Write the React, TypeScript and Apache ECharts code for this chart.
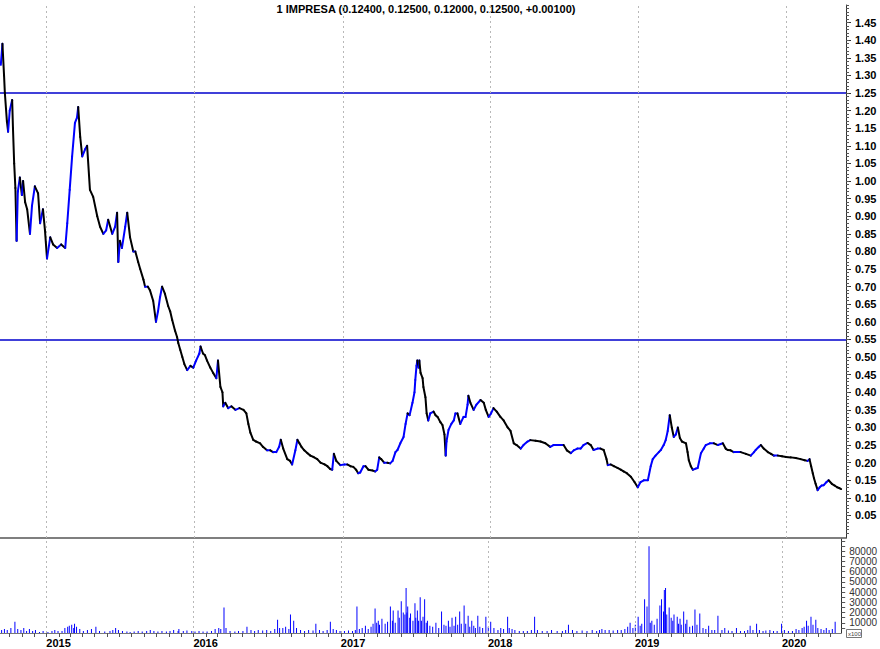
import React, { useEffect, useRef } from 'react';
import * as echarts from 'echarts';

const TITLE = '1 IMPRESA (0.12400, 0.12500, 0.12000, 0.12500, +0.00100)';
const yearLabels = [2015, 2016, 2017, 2018, 2019, 2020];
const priceLabels = [0.05, 0.1, 0.15, 0.2, 0.25, 0.3, 0.35, 0.4, 0.45, 0.5, 0.55, 0.6, 0.65, 0.7, 0.75, 0.8, 0.85, 0.9, 0.95, 1.0, 1.05, 1.1, 1.15, 1.2, 1.25, 1.3, 1.35, 1.4, 1.45];
const volumeLabels = [10000, 20000, 30000, 40000, 50000, 60000, 70000, 80000];
const levels = [1.25, 0.55];
const axisStart = '2014-09-08';
const axisEnd = '2020-05-27';

const closes: [string, number][] = [
  ['2014-09-10', 1.33], ['2014-09-14', 1.39], ['2014-09-18', 1.30], ['2014-09-20', 1.25], ['2014-09-25', 1.17], ['2014-09-28', 1.14],
  ['2014-10-02', 1.20], ['2014-10-08', 1.23], ['2014-10-10', 1.15], ['2014-10-13', 1.05], ['2014-10-16', 0.98], ['2014-10-19', 0.83],
  ['2014-10-22', 0.97], ['2014-10-27', 1.01], ['2014-11-01', 0.96], ['2014-11-04', 1.00], ['2014-11-09', 0.94], ['2014-11-14', 0.92],
  ['2014-11-21', 0.85], ['2014-11-26', 0.93], ['2014-12-03', 0.985], ['2014-12-11', 0.965], ['2014-12-16', 0.88], ['2014-12-23', 0.92],
  ['2014-12-28', 0.86], ['2015-01-02', 0.78], ['2015-01-10', 0.84], ['2015-01-17', 0.82], ['2015-01-27', 0.81], ['2015-02-06', 0.82],
  ['2015-02-16', 0.81], ['2015-02-21', 0.88], ['2015-02-27', 0.975], ['2015-03-05', 1.07], ['2015-03-12', 1.165], ['2015-03-17', 1.18],
  ['2015-03-20', 1.21], ['2015-03-25', 1.125], ['2015-03-30', 1.07], ['2015-04-06', 1.09], ['2015-04-11', 1.10], ['2015-04-18', 0.975],
  ['2015-04-26', 0.955], ['2015-05-06', 0.90], ['2015-05-13', 0.87], ['2015-05-21', 0.85], ['2015-05-28', 0.86], ['2015-06-02', 0.89],
  ['2015-06-12', 0.85], ['2015-06-19', 0.87], ['2015-06-24', 0.91], ['2015-06-27', 0.77], ['2015-07-01', 0.83], ['2015-07-06', 0.81],
  ['2015-07-14', 0.87], ['2015-07-19', 0.91], ['2015-07-26', 0.84], ['2015-08-03', 0.80], ['2015-08-08', 0.80], ['2015-08-15', 0.77],
  ['2015-08-20', 0.75], ['2015-08-28', 0.72], ['2015-09-01', 0.70], ['2015-09-08', 0.70], ['2015-09-13', 0.69], ['2015-09-21', 0.66],
  ['2015-09-28', 0.60], ['2015-10-03', 0.63], ['2015-10-08', 0.67], ['2015-10-13', 0.70], ['2015-10-20', 0.68], ['2015-10-28', 0.645],
  ['2015-11-02', 0.63], ['2015-11-07', 0.605], ['2015-11-14', 0.575], ['2015-11-19', 0.557], ['2015-11-22', 0.54], ['2015-11-27', 0.52],
  ['2015-12-02', 0.50], ['2015-12-07', 0.48], ['2015-12-14', 0.463], ['2015-12-22', 0.475], ['2015-12-29', 0.47], ['2016-01-05', 0.49],
  ['2016-01-13', 0.51], ['2016-01-16', 0.53], ['2016-01-22', 0.51], ['2016-01-27', 0.505], ['2016-02-01', 0.49], ['2016-02-09', 0.47],
  ['2016-02-16', 0.455], ['2016-02-24', 0.44], ['2016-02-28', 0.49], ['2016-03-05', 0.415], ['2016-03-10', 0.40], ['2016-03-12', 0.36],
  ['2016-03-17', 0.37], ['2016-03-24', 0.355], ['2016-04-01', 0.36], ['2016-04-11', 0.35], ['2016-04-21', 0.355], ['2016-05-01', 0.35],
  ['2016-05-08', 0.34], ['2016-05-13', 0.31], ['2016-05-18', 0.285], ['2016-05-25', 0.265], ['2016-06-01', 0.26], ['2016-06-11', 0.255],
  ['2016-06-18', 0.245], ['2016-06-28', 0.235], ['2016-07-06', 0.235], ['2016-07-13', 0.23], ['2016-07-21', 0.23], ['2016-07-28', 0.245],
  ['2016-08-01', 0.265], ['2016-08-07', 0.24], ['2016-08-17', 0.21], ['2016-08-24', 0.205], ['2016-08-29', 0.195], ['2016-09-06', 0.235],
  ['2016-09-11', 0.265], ['2016-09-16', 0.255], ['2016-09-21', 0.245], ['2016-09-28', 0.235], ['2016-10-06', 0.227], ['2016-10-13', 0.22],
  ['2016-10-21', 0.216], ['2016-10-30', 0.21], ['2016-11-07', 0.20], ['2016-11-17', 0.195], ['2016-11-24', 0.19], ['2016-12-01', 0.182],
  ['2016-12-06', 0.18], ['2016-12-10', 0.225], ['2016-12-16', 0.205], ['2016-12-26', 0.193], ['2017-01-05', 0.195], ['2017-01-12', 0.195],
  ['2017-01-20', 0.19], ['2017-01-27', 0.188], ['2017-02-03', 0.18], ['2017-02-08', 0.17], ['2017-02-13', 0.172], ['2017-02-21', 0.19],
  ['2017-02-26', 0.19], ['2017-03-05', 0.18], ['2017-03-15', 0.178], ['2017-03-22', 0.175], ['2017-03-27', 0.18], ['2017-04-01', 0.215],
  ['2017-04-06', 0.21], ['2017-04-13', 0.20], ['2017-04-21', 0.20], ['2017-04-28', 0.198], ['2017-05-04', 0.205], ['2017-05-11', 0.23],
  ['2017-05-16', 0.236], ['2017-05-23', 0.255], ['2017-05-31', 0.273], ['2017-06-05', 0.31], ['2017-06-10', 0.34], ['2017-06-15', 0.335],
  ['2017-06-22', 0.37], ['2017-06-27', 0.40], ['2017-06-29', 0.435], ['2017-07-02', 0.475], ['2017-07-04', 0.49], ['2017-07-07', 0.47],
  ['2017-07-09', 0.49], ['2017-07-12', 0.455], ['2017-07-17', 0.44], ['2017-07-19', 0.415], ['2017-07-24', 0.386], ['2017-07-27', 0.34],
  ['2017-07-31', 0.32], ['2017-08-05', 0.34], ['2017-08-13', 0.345], ['2017-08-18', 0.335], ['2017-08-23', 0.33], ['2017-08-30', 0.315],
  ['2017-09-04', 0.307], ['2017-09-09', 0.28], ['2017-09-12', 0.22], ['2017-09-14', 0.26], ['2017-09-19', 0.293], ['2017-09-26', 0.31],
  ['2017-10-02', 0.32], ['2017-10-06', 0.34], ['2017-10-11', 0.34], ['2017-10-18', 0.31], ['2017-10-26', 0.33], ['2017-10-31', 0.33],
  ['2017-11-05', 0.365], ['2017-11-07', 0.39], ['2017-11-12', 0.37], ['2017-11-20', 0.35], ['2017-11-27', 0.365], ['2017-12-07', 0.378],
  ['2017-12-15', 0.37], ['2017-12-20', 0.35], ['2017-12-27', 0.33], ['2018-01-02', 0.34], ['2018-01-08', 0.355], ['2018-01-16', 0.345],
  ['2018-01-25', 0.33], ['2018-02-02', 0.32], ['2018-02-12', 0.30], ['2018-02-19', 0.29], ['2018-02-27', 0.255], ['2018-03-06', 0.25],
  ['2018-03-16', 0.24], ['2018-03-23', 0.25], ['2018-04-02', 0.26], ['2018-04-09', 0.264], ['2018-04-22', 0.262], ['2018-05-04', 0.26],
  ['2018-05-16', 0.255], ['2018-05-28', 0.245], ['2018-06-05', 0.25], ['2018-06-15', 0.25], ['2018-06-30', 0.25], ['2018-07-08', 0.235],
  ['2018-07-18', 0.227], ['2018-07-25', 0.235], ['2018-08-03', 0.24], ['2018-08-11', 0.24], ['2018-08-18', 0.25], ['2018-08-28', 0.256],
  ['2018-09-05', 0.25], ['2018-09-12', 0.236], ['2018-09-22', 0.24], ['2018-09-29', 0.24], ['2018-10-07', 0.236], ['2018-10-14', 0.21],
  ['2018-10-17', 0.193], ['2018-10-24', 0.195], ['2018-11-01', 0.19], ['2018-11-10', 0.185], ['2018-11-18', 0.18], ['2018-11-25', 0.175],
  ['2018-12-03', 0.17], ['2018-12-13', 0.16], ['2018-12-22', 0.145], ['2018-12-30', 0.13], ['2019-01-06', 0.145], ['2019-01-14', 0.15],
  ['2019-01-24', 0.15], ['2019-01-31', 0.19], ['2019-02-05', 0.21], ['2019-02-12', 0.22], ['2019-02-20', 0.23], ['2019-02-25', 0.236],
  ['2019-03-04', 0.25], ['2019-03-09', 0.264], ['2019-03-14', 0.29], ['2019-03-19', 0.335], ['2019-03-24', 0.30], ['2019-03-29', 0.273],
  ['2019-04-03', 0.28], ['2019-04-08', 0.30], ['2019-04-13', 0.27], ['2019-04-18', 0.26], ['2019-04-28', 0.255], ['2019-05-02', 0.23],
  ['2019-05-05', 0.207], ['2019-05-10', 0.19], ['2019-05-15', 0.18], ['2019-05-22', 0.183], ['2019-05-27', 0.185], ['2019-06-04', 0.227],
  ['2019-06-11', 0.24], ['2019-06-16', 0.25], ['2019-06-26', 0.255], ['2019-07-06', 0.255], ['2019-07-16', 0.25], ['2019-07-28', 0.255],
  ['2019-08-04', 0.24], ['2019-08-09', 0.236], ['2019-08-16', 0.235], ['2019-08-24', 0.23], ['2019-09-03', 0.23], ['2019-09-10', 0.23],
  ['2019-09-23', 0.225], ['2019-10-05', 0.22], ['2019-10-13', 0.23], ['2019-10-17', 0.236], ['2019-10-25', 0.245], ['2019-10-30', 0.25],
  ['2019-11-06', 0.24], ['2019-11-16', 0.23], ['2019-11-24', 0.225], ['2019-12-01', 0.22], ['2019-12-11', 0.22], ['2019-12-21', 0.218],
  ['2019-12-31', 0.216], ['2020-01-12', 0.215], ['2020-01-24', 0.213], ['2020-02-05', 0.21], ['2020-02-15', 0.207], ['2020-02-22', 0.205],
  ['2020-02-27', 0.21], ['2020-03-02', 0.19], ['2020-03-06', 0.17], ['2020-03-09', 0.156], ['2020-03-13', 0.14], ['2020-03-18', 0.122],
  ['2020-03-23', 0.13], ['2020-03-28', 0.135], ['2020-04-02', 0.136], ['2020-04-09', 0.145], ['2020-04-14', 0.15], ['2020-04-22', 0.14],
  ['2020-04-29', 0.135], ['2020-05-05', 0.13], ['2020-05-10', 0.128], ['2020-05-15', 0.125],
];

const volumes: [string, number][] = [
  ['2014-09-12', 3000], ['2014-09-19', 4000], ['2014-09-26', 3000], ['2014-10-05', 5000], ['2014-10-15', 11000], ['2014-10-22', 4000],
  ['2014-10-30', 3000], ['2014-11-06', 5000], ['2014-11-13', 2000], ['2014-11-20', 4000], ['2014-11-28', 2000], ['2014-12-05', 3000],
  ['2014-12-15', 1000], ['2014-12-24', 2000], ['2015-01-05', 1000], ['2015-01-15', 2000], ['2015-01-22', 3000], ['2015-01-30', 2000],
  ['2015-02-09', 2000], ['2015-02-16', 5000], ['2015-02-23', 6000], ['2015-02-27', 7000], ['2015-03-05', 8000], ['2015-03-10', 5000],
  ['2015-03-12', 9000], ['2015-03-17', 6000], ['2015-03-25', 4000], ['2015-04-03', 2000], ['2015-04-13', 3000], ['2015-04-23', 4000],
  ['2015-05-04', 6000], ['2015-05-13', 2000], ['2015-05-26', 1500], ['2015-06-08', 2000], ['2015-06-15', 3000], ['2015-06-22', 5000],
  ['2015-06-29', 3000], ['2015-07-09', 2000], ['2015-07-20', 1500], ['2015-07-28', 1000], ['2015-08-07', 1500], ['2015-08-17', 2000],
  ['2015-08-27', 1500], ['2015-09-07', 2000], ['2015-09-16', 3000], ['2015-09-25', 2000], ['2015-10-05', 1500], ['2015-10-15', 2000],
  ['2015-10-26', 1500], ['2015-11-04', 2000], ['2015-11-13', 3000], ['2015-11-24', 2000], ['2015-11-26', 4000], ['2015-12-07', 2000],
  ['2015-12-16', 2500], ['2015-12-28', 2000], ['2016-01-05', 1500], ['2016-01-15', 2000], ['2016-01-25', 1500], ['2016-02-04', 1500],
  ['2016-02-15', 2000], ['2016-02-24', 4000], ['2016-03-04', 5000], ['2016-03-09', 4000], ['2016-03-17', 25000], ['2016-03-22', 5000],
  ['2016-04-01', 2000], ['2016-04-13', 1500], ['2016-04-22', 2000], ['2016-05-03', 2000], ['2016-05-13', 6000], ['2016-05-23', 3000],
  ['2016-06-01', 2000], ['2016-06-10', 3000], ['2016-06-21', 2500], ['2016-07-01', 3000], ['2016-07-11', 2000], ['2016-07-21', 4000],
  ['2016-07-28', 13000], ['2016-08-02', 5000], ['2016-08-10', 5000], ['2016-08-17', 6000], ['2016-08-25', 4000], ['2016-08-29', 18000],
  ['2016-09-06', 12000], ['2016-09-13', 5000], ['2016-09-23', 3000], ['2016-10-03', 2000], ['2016-10-13', 3000], ['2016-10-24', 2500],
  ['2016-10-31', 9000], ['2016-11-09', 3000], ['2016-11-18', 2000], ['2016-11-28', 3000], ['2016-12-06', 11000], ['2016-12-13', 4000],
  ['2016-12-21', 3000], ['2016-12-30', 2000], ['2017-01-10', 2000], ['2017-01-20', 2500], ['2017-01-30', 2000], ['2017-02-06', 3000],
  ['2017-02-10', 26000], ['2017-02-16', 4000], ['2017-02-23', 5000], ['2017-03-03', 7000], ['2017-03-10', 4000], ['2017-03-17', 6000],
  ['2017-03-22', 9000], ['2017-03-27', 24000], ['2017-03-31', 10000], ['2017-04-04', 12000], ['2017-04-07', 8000], ['2017-04-13', 14000],
  ['2017-04-21', 9000], ['2017-04-27', 11000], ['2017-05-04', 26000], ['2017-05-09', 12000], ['2017-05-11', 22000], ['2017-05-16', 10000],
  ['2017-05-23', 22000], ['2017-05-26', 15000], ['2017-05-31', 31000], ['2017-06-05', 20000], ['2017-06-09', 18000], ['2017-06-12', 44000],
  ['2017-06-14', 20000], ['2017-06-16', 26000], ['2017-06-21', 15000], ['2017-06-23', 19000], ['2017-06-29', 12000], ['2017-07-04', 29000],
  ['2017-07-06', 15000], ['2017-07-10', 22000], ['2017-07-13', 12000], ['2017-07-17', 35000], ['2017-07-20', 12000], ['2017-07-24', 16000],
  ['2017-07-28', 33000], ['2017-08-01', 10000], ['2017-08-04', 12000], ['2017-08-10', 7000], ['2017-08-17', 6000], ['2017-08-25', 10000],
  ['2017-09-01', 5000], ['2017-09-08', 21000], ['2017-09-14', 8000], ['2017-09-19', 7000], ['2017-09-25', 12000], ['2017-09-29', 6000],
  ['2017-10-04', 15000], ['2017-10-09', 7000], ['2017-10-13', 16000], ['2017-10-18', 8000], ['2017-10-23', 21000], ['2017-10-27', 9000],
  ['2017-11-03', 27000], ['2017-11-07', 9000], ['2017-11-13', 17000], ['2017-11-17', 6000], ['2017-11-22', 12000], ['2017-11-27', 7000],
  ['2017-12-01', 5000], ['2017-12-07', 17000], ['2017-12-12', 6000], ['2017-12-19', 5000], ['2017-12-27', 16000], ['2018-01-02', 6000],
  ['2018-01-08', 11000], ['2018-01-16', 5000], ['2018-01-26', 3000], ['2018-02-02', 5000], ['2018-02-09', 4000], ['2018-02-19', 16000],
  ['2018-02-23', 5000], ['2018-03-02', 4000], ['2018-03-09', 3000], ['2018-03-20', 2000], ['2018-03-30', 2000], ['2018-04-09', 2000],
  ['2018-04-19', 3000], ['2018-04-27', 16000], ['2018-05-04', 3000], ['2018-05-16', 2000], ['2018-05-28', 2000], ['2018-06-08', 3000],
  ['2018-06-22', 2000], ['2018-07-05', 2000], ['2018-07-13', 3000], ['2018-07-20', 8000], ['2018-07-30', 3000], ['2018-08-10', 2000],
  ['2018-08-23', 2500], ['2018-09-04', 2000], ['2018-09-17', 3000], ['2018-09-28', 2000], ['2018-10-05', 3000], ['2018-10-11', 4000],
  ['2018-10-19', 3000], ['2018-10-29', 3000], ['2018-11-08', 2500], ['2018-11-19', 3000], ['2018-11-28', 3000], ['2018-12-07', 4000],
  ['2018-12-14', 6000], ['2018-12-20', 10000], ['2018-12-27', 5000], ['2019-01-02', 8000], ['2019-01-09', 16000], ['2019-01-14', 7000],
  ['2019-01-18', 9000], ['2019-01-25', 33000], ['2019-01-31', 26000], ['2019-02-05', 85000], ['2019-02-08', 10000], ['2019-02-12', 12000],
  ['2019-02-18', 8000], ['2019-02-25', 14000], ['2019-03-04', 27000], ['2019-03-08', 33000], ['2019-03-13', 21000], ['2019-03-15', 42000],
  ['2019-03-18', 44000], ['2019-03-21', 18000], ['2019-03-27', 25000], ['2019-04-01', 15000], ['2019-04-05', 12000], ['2019-04-08', 18000],
  ['2019-04-16', 16000], ['2019-04-19', 9000], ['2019-04-23', 14000], ['2019-04-26', 8000], ['2019-05-02', 21000], ['2019-05-07', 9000],
  ['2019-05-10', 13000], ['2019-05-17', 6000], ['2019-05-24', 7000], ['2019-05-30', 23000], ['2019-06-04', 8000], ['2019-06-11', 19000],
  ['2019-06-19', 5000], ['2019-06-26', 4000], ['2019-07-03', 7000], ['2019-07-11', 3000], ['2019-07-18', 3000], ['2019-07-26', 17000],
  ['2019-08-05', 3000], ['2019-08-12', 5000], ['2019-08-21', 2500], ['2019-08-30', 2000], ['2019-09-10', 5000], ['2019-09-20', 2000],
  ['2019-09-30', 2000], ['2019-10-08', 3000], ['2019-10-14', 7000], ['2019-10-21', 3000], ['2019-10-30', 9000], ['2019-11-06', 3000],
  ['2019-11-15', 2000], ['2019-11-22', 2500], ['2019-12-02', 3000], ['2019-12-11', 2000], ['2019-12-20', 2000], ['2019-12-31', 9000],
  ['2020-01-07', 3000], ['2020-01-17', 2000], ['2020-01-27', 2000], ['2020-02-05', 4000], ['2020-02-12', 3000], ['2020-02-20', 5000],
  ['2020-02-25', 6000], ['2020-03-02', 12000], ['2020-03-06', 7000], ['2020-03-13', 16000], ['2020-03-18', 8000], ['2020-03-25', 13000],
  ['2020-03-30', 5000], ['2020-04-07', 4000], ['2020-04-14', 3000], ['2020-04-20', 5000], ['2020-04-27', 3000], ['2020-05-05', 4000],
  ['2020-05-12', 11000],
];

const FONT = '"Liberation Sans", Arial, sans-serif';

function ts(s: string): number {
  const [y, m, d] = s.split('-').map(Number);
  return Date.UTC(y, m - 1, d);
}

export default function App() {
  const ref = useRef<HTMLDivElement>(null);

  useEffect(() => {
    if (!ref.current) return;
    const chart = echarts.init(ref.current, undefined, { renderer: 'svg' });

    const xMin = ts(axisStart);
    const xMax = ts(axisEnd);
    const yearStarts = yearLabels.map((y) => Date.UTC(y, 0, 1));
    const monthStarts: number[] = [];
    for (let y = 2014; y <= 2020; y++) {
      for (let m = 0; m < 12; m++) {
        const t = Date.UTC(y, m, 1);
        if (t >= xMin && t <= xMax) monthStarts.push(t);
      }
    }
    const priceMinor: number[] = [];
    for (let k = 0; k <= 150; k++) priceMinor.push(k / 100);
    const volMinor: number[] = [];
    for (let k = 5000; k <= 90000; k += 5000) volMinor.push(k);

    const segData = closes.map((c, i) => {
      const p = closes[i > 0 ? i - 1 : 0];
      return [ts(c[0]), c[1], ts(p[0]), p[1]];
    });

    const yearLines = yearStarts.map((t) => ({
      xAxis: t,
      lineStyle: { color: '#b8b8b8', type: [2, 3], width: 1 },
    }));

    const option: any = {
      animation: false,
      backgroundColor: '#ffffff',
      textStyle: { fontFamily: FONT },
      graphic: [
        {
          type: 'text',
          x: 426,
          y: 3,
          style: {
            text: TITLE,
            fill: '#000',
            font: `bold 11px ${FONT}`,
            textAlign: 'center',
          },
        },
        {
          type: 'rect',
          shape: { x: 846.5, y: 629.5, width: 15, height: 8 },
          style: { fill: '#fff', stroke: '#777', lineWidth: 1 },
        },
        {
          type: 'text',
          x: 848,
          y: 630.5,
          style: { text: 'x100', fill: '#444', font: `6px ${FONT}` },
        },
      ],
      grid: [
        { left: 0, right: 34, top: 5, height: 533 },
        { left: 0, right: 34, top: 539, height: 94 },
      ],
      xAxis: [
        {
          type: 'value',
          gridIndex: 0,
          min: xMin,
          max: xMax,
          axisLine: { show: true, onZero: false, lineStyle: { color: '#555', width: 1.5 } },
          axisTick: { show: false },
          axisLabel: { show: false },
          splitLine: { show: false },
        },
        {
          type: 'value',
          gridIndex: 1,
          min: xMin,
          max: xMax,
          axisLine: { show: true, onZero: false, lineStyle: { color: '#777', width: 1 } },
          axisTick: { show: true, customValues: monthStarts, length: 4, lineStyle: { color: '#555' } },
          axisLabel: {
            show: true,
            customValues: yearStarts,
            formatter: (v: number) => String(new Date(v).getUTCFullYear()),
            align: 'left',
            margin: 4,
            fontSize: 11,
            fontWeight: 'bold',
            color: '#000',
            fontFamily: FONT,
          },
          splitLine: { show: false },
        },
      ],
      yAxis: [
        {
          type: 'value',
          gridIndex: 0,
          position: 'right',
          min: -0.014,
          max: 1.5,
          axisLine: { show: true, lineStyle: { color: '#333' } },
          axisTick: { show: true, customValues: priceLabels, length: 5, lineStyle: { color: '#333' } },
          axisLabel: {
            show: true,
            customValues: priceLabels,
            formatter: (v: number) => v.toFixed(2),
            fontSize: 11,
            fontWeight: 'bold',
            color: '#000',
            fontFamily: FONT,
            margin: 9,
          },
          splitLine: { show: false },
        },
        {
          type: 'value',
          gridIndex: 0,
          position: 'right',
          min: -0.014,
          max: 1.5,
          axisLine: { show: false },
          axisTick: { show: true, customValues: priceMinor, length: 3, lineStyle: { color: '#555' } },
          axisLabel: { show: false },
          splitLine: { show: false },
        },
        {
          type: 'value',
          gridIndex: 1,
          position: 'right',
          min: 0,
          max: 92000,
          axisLine: { show: true, lineStyle: { color: '#333' } },
          axisTick: { show: true, customValues: volMinor, length: 4, lineStyle: { color: '#555' } },
          axisLabel: {
            show: true,
            customValues: volumeLabels,
            formatter: (v: number) => String(Math.round(v)),
            fontSize: 10,
            color: '#333',
            fontFamily: FONT,
            margin: 8,
          },
          splitLine: { show: false },
        },
      ],
      series: [
        {
          type: 'custom',
          name: 'price',
          xAxisIndex: 0,
          yAxisIndex: 0,
          encode: { x: [0, 2], y: [1, 3] },
          data: segData,
          renderItem: (params: any, api: any) => {
            const a = api.coord([api.value(2), api.value(3)]);
            const b = api.coord([api.value(0), api.value(1)]);
            const up = api.value(1) >= api.value(3);
            return {
              type: 'line',
              shape: { x1: a[0], y1: a[1], x2: b[0], y2: b[1] },
              style: { stroke: up ? '#0000ff' : '#000000', lineWidth: 2, lineCap: 'round' },
              z2: 10,
            };
          },
          markLine: {
            silent: true,
            symbol: ['none', 'none'],
            label: { show: false },
            z: 1,
            data: [
              ...levels.map((v) => ({ yAxis: v, lineStyle: { color: '#0000cc', width: 1.5, type: 'solid' } })),
              ...yearLines,
            ],
          },
        },
        {
          type: 'bar',
          name: 'volume',
          xAxisIndex: 1,
          yAxisIndex: 2,
          barWidth: 1,
          itemStyle: { color: '#0000ff' },
          data: volumes.map((v) => [ts(v[0]), v[1]]),
          markLine: {
            silent: true,
            symbol: ['none', 'none'],
            label: { show: false },
            data: yearLines,
          },
        },
      ],
    };

    chart.setOption(option);
    return () => chart.dispose();
  }, []);

  return (
    <div
      ref={ref}
      style={{ position: 'fixed', left: 0, top: 0, width: 880, height: 649, background: '#fff' }}
    />
  );
}
